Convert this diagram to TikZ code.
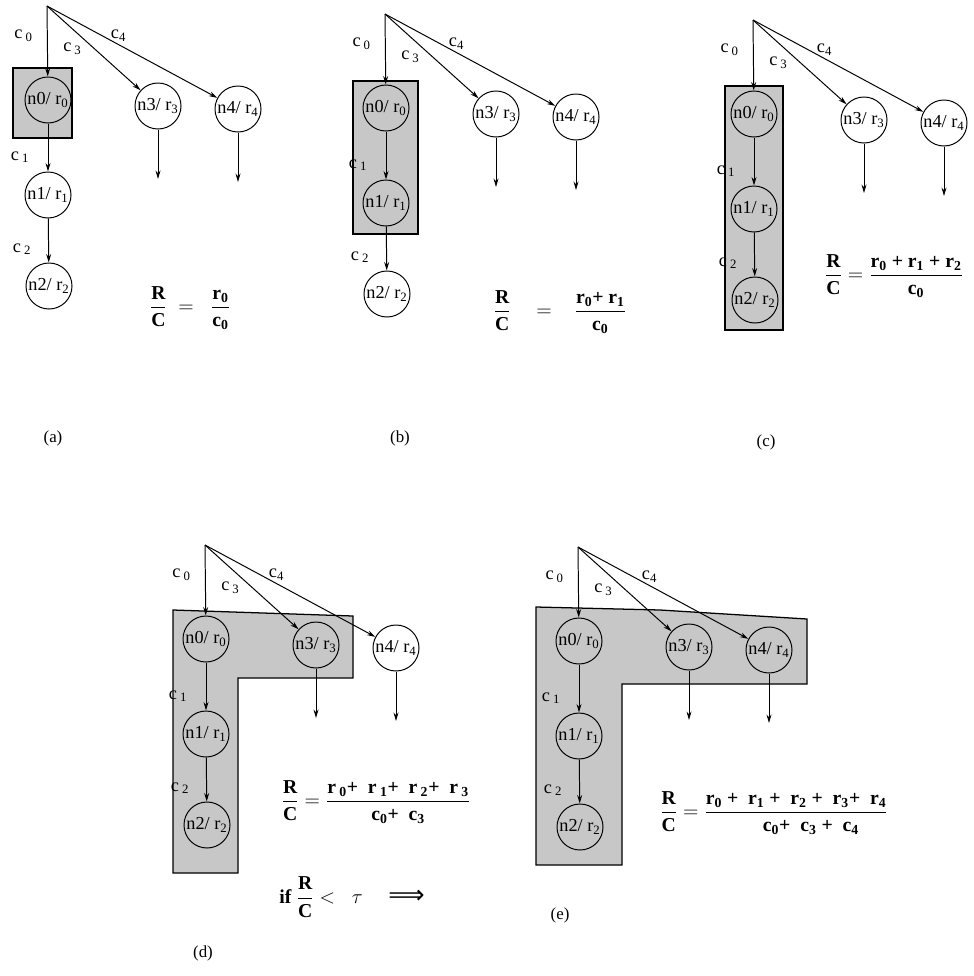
\documentclass[tikz,border=0pt]{standalone}
\usepackage{fontspec}
\setmainfont{Liberation Serif}
\newfontfamily\arrowfont{DejaVu Sans}
\usetikzlibrary{positioning,arrows.meta}

\begin{document}
\begin{tikzpicture}[x=0.025cm, y=-0.025cm,
        proc/.style={circle, draw, line width=0.7pt, minimum size=1.15cm, inner sep=0pt, font=\fontsize{13}{15}\selectfont},
        arrow/.style={-{Stealth[length=6pt, width=3.5pt]}, line width=0.7pt},
        cost/.style={inner sep=1pt, font=\fontsize{13}{15}\selectfont},
        cluster/.style={draw, line width=0.9pt, fill=black!22},
        ratio/.style={font=\fontsize{14}{16}\selectfont\bfseries},
        caption/.style={font=\fontsize{12}{14}\selectfont}
    ]
        \useasboundingbox (0,0) rectangle (974,976);

        % shaded clusters
        \draw[cluster] (13,68) rectangle (72,138);
        \draw[cluster] (353,81) rectangle (418,234);
        \draw[cluster] (725,86) rectangle (783,330);
        \draw[cluster] (173,610) -- (353,616) -- (353,678) -- (238,678) -- (238,873) -- (173,873) -- cycle;
        \draw[cluster] (536,607) -- (660,610) -- (807,619) -- (807,684) -- (622,684) -- (622,865) -- (536,865) -- cycle;

        % the five trees
        \foreach \p/\rx/\ry in {a/47/6, b/385/14, c/753/20, d/205/545, e/578/547}{
            \coordinate (\p-root) at (\rx,\ry);
            \node[proc] (\p-n0) at (\rx+1,\ry+94) {n0/ r\textsubscript{0}};
            \node[proc] (\p-n1) at (\rx+1,\ry+189) {n1/ r\textsubscript{1}};
            \node[proc] (\p-n2) at (\rx+2,\ry+280) {n2/ r\textsubscript{2}};
            \node[proc] (\p-n3) at (\rx+111,\ry+100) {n3/ r\textsubscript{3}};
            \node[proc] (\p-n4) at (\rx+191,\ry+103) {n4/ r\textsubscript{4}};
            \coordinate (\p-o3) at (\rx+111,\ry+173);
            \coordinate (\p-o4) at (\rx+191,\ry+176);

            \draw[arrow] (\p-root) -- (\p-n0) node[cost, pos=.42, left=9pt] {c\,\textsubscript{0}};
            \draw[arrow] (\p-root) -- (\p-n3) node[cost, pos=.42, below left=0pt and 2pt] {c\,\textsubscript{3}};
            \draw[arrow] (\p-root) -- (\p-n4) node[cost, pos=.42, above=1pt] {c\textsubscript{4}};
            \draw[arrow] (\p-n0) -- (\p-n1) node[cost, pos=.7, left=12pt] {c\,\textsubscript{1}};
            \draw[arrow] (\p-n1) -- (\p-n2) node[cost, pos=.7, left=11pt] {c\,\textsubscript{2}};
            \draw[arrow] (\p-n3) -- (\p-o3);
            \draw[arrow] (\p-n4) -- (\p-o4);
        }

        % ratios
        \node[ratio] (ra) at (190,308) {$\displaystyle\frac{\textbf{R}}{\textbf{C}}\;=\;\;\frac{\textbf{r\textsubscript{0}}}{\textbf{c\textsubscript{0}}}$};
        \node[ratio] (rb) at (560,312) {$\displaystyle\frac{\textbf{R}}{\textbf{C}}\quad=\;\;\;\frac{\textbf{r\textsubscript{0}+ r\textsubscript{1}}}{\textbf{c\textsubscript{0}}}$};
        \node[ratio] (rc) at (894,276) {$\displaystyle\frac{\textbf{R}}{\textbf{C}}=\frac{\textbf{r\textsubscript{0} + r\textsubscript{1} + r\textsubscript{2}}}{\textbf{c\textsubscript{0}}}$};
        \node[ratio] (rd) at (376,802) {$\displaystyle\frac{\textbf{R}}{\textbf{C}}=\frac{\textbf{r\,\textsubscript{0}+~ r\,\textsubscript{1}+~ r\,\textsubscript{2}+~ r\,\textsubscript{3}}}{\textbf{c\textsubscript{0}+~ c\textsubscript{3}}}$};
        \node[ratio] (re) at (774,813) {$\displaystyle\frac{\textbf{R}}{\textbf{C}}=\frac{\textbf{r\textsubscript{0}~+~ r\textsubscript{1}~+~ r\textsubscript{2}~+~ r\textsubscript{3}+~ r\textsubscript{4}}}{\hspace{1.5em}\textbf{c\textsubscript{0}+~ c\textsubscript{3}~+~ c\textsubscript{4}}}$};
        \node[ratio] (cond) at (352,897) {if $\displaystyle\frac{\textbf{R}}{\textbf{C}}<\;\;\tau$\hspace{1.3em}{\arrowfont\mdseries\fontsize{18}{18}\selectfont ⟹}};

        % captions
        \node[caption] (capa) at (53,438) {(a)};
        \node[caption] (capb) at (400,438) {(b)};
        \node[caption] (capc) at (766,442) {(c)};
        \node[caption] (capd) at (203,953) {(d)};
        \node[caption] (cape) at (560,915) {(e)};
    \end{tikzpicture}
\end{document}
